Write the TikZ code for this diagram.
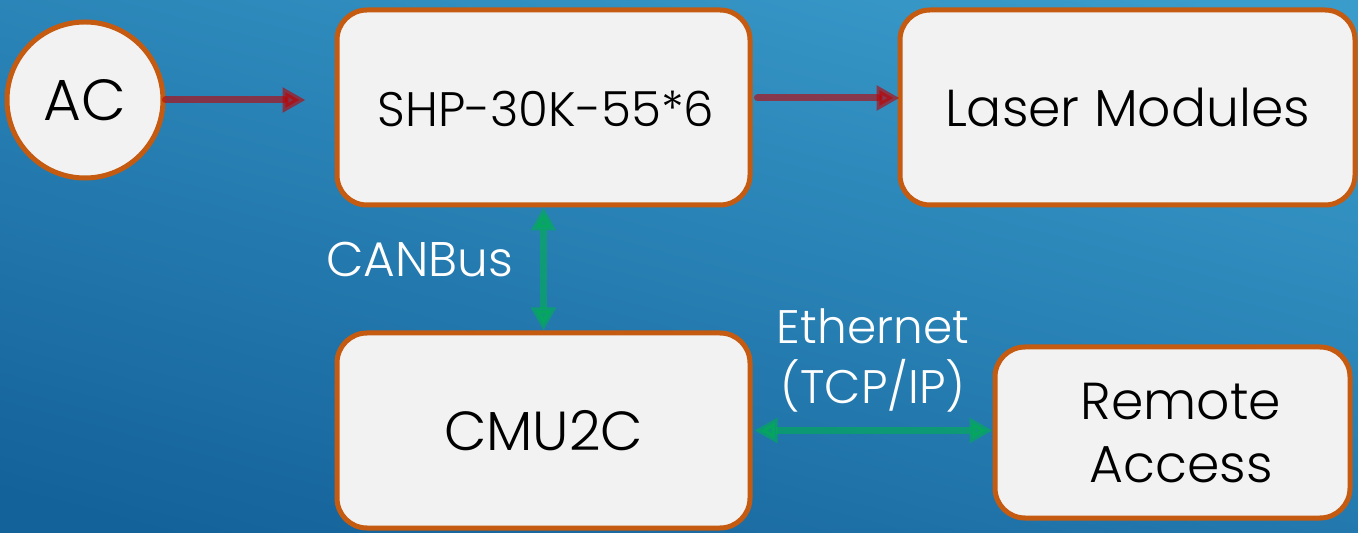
\documentclass[tikz,border=0pt]{standalone}
\usepackage{fontspec}
\setmainfont{Poppins}[UprightFont=* Light]
\usetikzlibrary{arrows.meta,calc}
\definecolor{bgtop}{HTML}{3A9CCB}
\definecolor{bgbot}{HTML}{14629A}
\definecolor{boxfill}{HTML}{F2F2F2}
\definecolor{boxedge}{HTML}{C55A11}
\definecolor{redar}{HTML}{C00000}
\definecolor{greenar}{HTML}{00B050}
\tikzset{
  blockbox/.style={draw=boxedge, fill=boxfill, line width=2.5pt, rounded corners=15pt,
    align=center, font=\fontsize{26}{33}\selectfont, text=black, inner sep=0pt},
  acnode/.style={draw=boxedge, fill=boxfill, line width=2.5pt, circle, minimum size=78pt,
    font=\fontsize{29}{33}\selectfont, inner sep=0pt},
  redarrow/.style={draw=redar, draw opacity=0.6, fill opacity=0.6, line width=3.5pt, line cap=round,
    -{Triangle[length=11.5pt,width=12pt,fill=redar]}},
  greenarrow/.style={draw=greenar, draw opacity=0.6, fill opacity=0.6, line width=3.5pt,
    {Triangle[length=11.5pt,width=12pt,fill=greenar]}-{Triangle[length=11.5pt,width=12pt,fill=greenar]}},
  wlabel/.style={text=white, font=\fontsize{23.5}{30}\selectfont, align=center, inner sep=0pt}
}
\begin{document}
\begin{tikzpicture}[x=0.5pt,y=-0.5pt]
\useasboundingbox (0,0) rectangle (1358,533);
\shade[top color=bgtop, bottom color=bgbot, shading angle=-15] (-40,-40) rectangle (1398,573);
\node[acnode] (ac) at (85,100) {AC};
\node[blockbox, minimum width=206.5pt, minimum height=97.5pt] (shp) at (543.5,107.5) {};
\node[font=\fontsize{24.2}{30}\selectfont, inner sep=0pt] (shptext) at (546,109) {SHP-30K-55*6};
\node[blockbox, minimum width=227.5pt, minimum height=97.5pt] (laser) at (1127.5,107.5) {Laser Modules};
\node[blockbox, minimum width=206.5pt, minimum height=97.5pt, font=\fontsize{27.5}{33}\selectfont] (cmu) at (543.5,430.5) {CMU2C};
\node[blockbox, minimum width=177.5pt, minimum height=85.5pt] (remote) at (1172.5,432.5) {};
\node[align=center, font=\fontsize{26}{31.5}\selectfont, inner sep=0pt] (remotetext) at (1181,433) {Remote\\Access};
\draw[redarrow, shorten >=14.5pt] (ac.east) -- (ac.east -| shp.west);
\draw[redarrow, shorten <=2.5pt, shorten >=-1pt] ([yshift=4.75pt]shp.east) -- ([yshift=4.75pt]laser.west);
\draw[greenarrow] (shp.south) -- (cmu.north);
\draw[greenarrow, shorten <=1pt] (cmu.east) -- (cmu.east -| remote.west);
\node[wlabel, font=\fontsize{24.3}{30}\selectfont] (canlabel) at (420,260) {CANBus};
\node[wlabel] (ethlabel) at (873,360) {Ethernet\\(TCP/IP)};
\end{tikzpicture}
\end{document}
